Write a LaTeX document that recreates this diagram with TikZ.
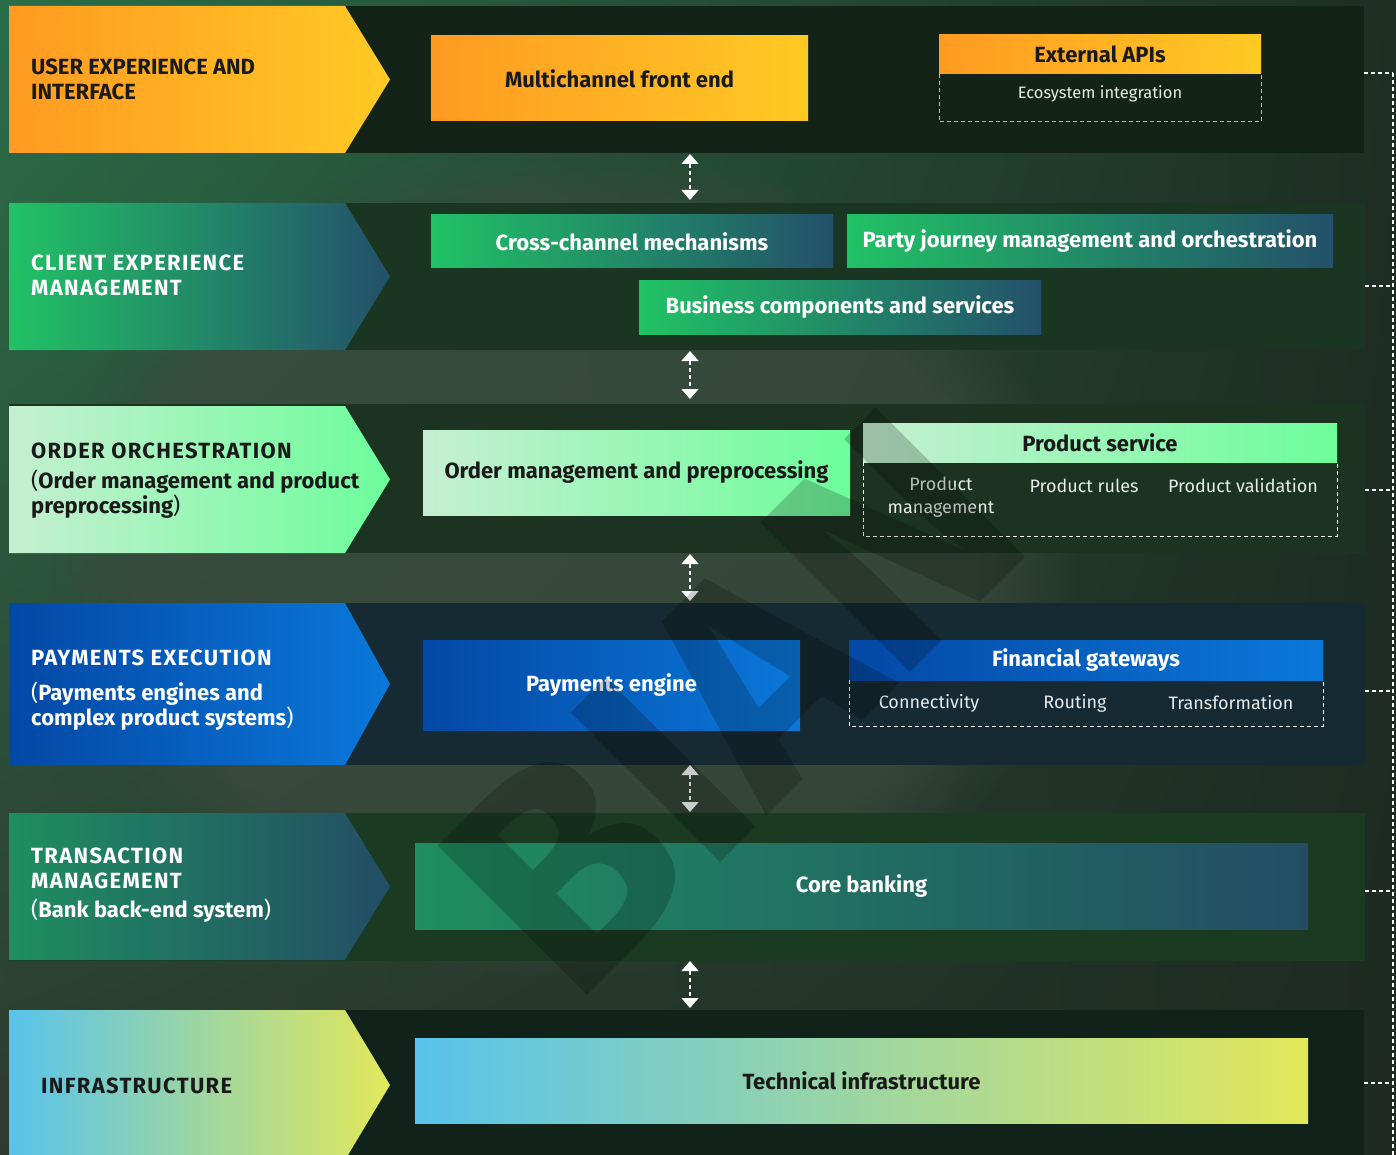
\documentclass[tikz,border=0pt]{standalone}
\usepackage{fontspec}
\setmainfont{Fira Sans}
\usetikzlibrary{arrows.meta,shadings,fadings}
\definecolor{bgUL}{HTML}{2A6E48}
\definecolor{bgUR}{HTML}{1E2E24}
\definecolor{bgLL}{HTML}{2D3B2F}
\definecolor{bgLR}{HTML}{1E2A22}
\definecolor{glow}{HTML}{3A4A3D}
\definecolor{bandA}{HTML}{142318}
\definecolor{bandB}{HTML}{1A3521}
\definecolor{bandC}{HTML}{1B3320}
\definecolor{bandD}{HTML}{162A33}
\definecolor{bandE}{HTML}{1A3A22}
\definecolor{bandF}{HTML}{10221A}
\definecolor{orL}{HTML}{FF9A22}
\definecolor{orR}{HTML}{FFCA24}
\definecolor{gbL}{HTML}{21C265}
\definecolor{gbR}{HTML}{23506A}
\definecolor{mnL}{HTML}{C6EFD1}
\definecolor{mnR}{HTML}{6DFD9B}
\definecolor{blL}{HTML}{0448A5}
\definecolor{blR}{HTML}{0A78DA}
\definecolor{tlL}{HTML}{1F8E60}
\definecolor{tlR}{HTML}{234D64}
\definecolor{inL}{HTML}{58C3EC}
\definecolor{inR}{HTML}{E2E85A}
\definecolor{darktext}{HTML}{1A1A1A}
\definecolor{subtext}{HTML}{E8ECE8}
\definecolor{ygdash}{HTML}{C2CF3A}
\tikzset{
 lbl/.style={anchor=west, align=left, inner sep=0pt, font=\fontsize{22}{25}\selectfont\bfseries},
 blk/.style={inner sep=0pt, outer sep=0pt, align=center, font=\fontsize{22}{26}\selectfont\bfseries},
 subitem/.style={inner sep=0pt, align=center, font=\fontsize{18}{23}\selectfont, text=subtext},
 dline/.style={white, line width=1pt, dash pattern=on 4pt off 3pt},
 ydline/.style={ygdash, line width=1pt, dash pattern=on 4pt off 3pt},
 updown/.style={white, line width=1.3pt, dash pattern=on 4pt off 3pt, {Triangle[width=17pt,length=10pt]}-{Triangle[width=17pt,length=10pt]}},
 rail/.style={white, line width=1.3pt, dash pattern=on 4pt off 3pt},
}
\newcommand{\mychevron}[4]{\shade[left color=#3,right color=#4] (9,#1) -- (345,#1) -- (390,{(#1+#2)/2}) -- (345,#2) -- (9,#2) -- cycle;}
\newcommand{\capsp}[1]{{\addfontfeature{LetterSpace=6}#1}}
\newcommand{\lpar}{{\mdseries(}}
\newcommand{\rpar}{{\mdseries)}}
\begin{document}
\begin{tikzpicture}[x=1pt,y=-1pt]
\useasboundingbox (0,0) rectangle (1396,1155);
% background
\shade[upper left=bgUL, upper right=bgUR, lower left=bgLL, lower right=bgLR] (0,0) rectangle (1396,1155);
\fill[glow, opacity=0.8, path fading=circle with fuzzy edge 20 percent] (560,560) ellipse (520pt and 420pt);
% bands
\fill[bandA] (9,6) rectangle (1364,153);
\fill[bandB] (9,203) rectangle (1365,350);
\fill[bandC] (9,404) rectangle (1365,553);
\fill[bandD] (9,603) rectangle (1365,765);
\fill[bandE] (9,813) rectangle (1365,961);
\fill[bandF] (9,1010) rectangle (1364,1155);
% chevrons
\mychevron{6}{153}{orL}{orR}
\mychevron{203}{350}{gbL}{gbR}
\mychevron{406}{553}{mnL}{mnR}
\mychevron{603}{765}{blL}{blR}
\mychevron{813}{960}{tlL}{tlR}
\mychevron{1010}{1160}{inL}{inR}
% row labels
\node[lbl, text=darktext] (l1) at (31,79.5) {USER EXPERIENCE AND\\INTERFACE};
\node[lbl, text=white] (l2) at (31,275.5) {\capsp{CLIENT EXPERIENCE}\\\capsp{MANAGEMENT}};
\node[lbl, text=darktext] (l3) at (31,481) {\capsp{ORDER ORCHESTRATION}\\[5pt]\lpar Order management and product\\preprocessing\rpar};
\node[lbl, text=white] (l4) at (31,690) {\capsp{PAYMENTS EXECUTION}\\[10pt]\lpar Payments engines and\\complex product systems\rpar};
\node[lbl, text=white] (l5) at (31,885.5) {\capsp{TRANSACTION}\\\capsp{MANAGEMENT}\\[4pt]\lpar Bank back-end system\rpar};
\node[lbl, text=darktext] (l6) at (41,1086) {\capsp{INFRASTRUCTURE}};
% row 1
\node[blk, left color=orL, right color=orR, text=darktext, minimum width=377pt, minimum height=85pt] (mfe) at (619.5,78.5) {Multichannel front end};
\node[blk, left color=orL, right color=orR, text=darktext, minimum width=322pt, minimum height=39pt] (api) at (1100,54.5) {External APIs};
\coordinate (apiBL) at (939,122); \coordinate (apiBR) at (1261,122);
\draw[ydline] (api.south west) -- (apiBL) -- (apiBR) -- (api.south east);
\node[subitem, font=\fontsize{16.5}{20}\selectfont] (eco) at (1100,94) {Ecosystem integration};
% row 2
\node[blk, left color=gbL, right color=gbR, text=white, minimum width=402pt, minimum height=53pt] (ccm) at (632,241.5) {Cross-channel mechanisms};
\node[blk, left color=gbL, right color=gbR, text=white, minimum width=486pt, minimum height=53pt] (pjm) at (1090,241.5) {Party journey management and orchestration};
\node[blk, left color=gbL, right color=gbR, text=white, minimum width=402pt, minimum height=53pt] (bcs) at (840,307.5) {Business components and services};
% row 3
\node[blk, left color=mnL, right color=mnR, text=darktext, minimum width=427pt, minimum height=85pt] (omp) at (636.5,472.5) {Order management and preprocessing};
\node[blk, left color=mnL, right color=mnR, text=darktext, minimum width=474pt, minimum height=39pt] (ps) at (1100,442.5) {Product service};
\coordinate (psBL) at (863,536); \coordinate (psBR) at (1337,536);
\draw[dline] (ps.south west) -- (psBL) -- (psBR) -- (ps.south east);
\node[subitem] (pm) at (941,497.5) {Product\\management};
\node[subitem] (pr) at (1084,486) {Product rules};
\node[subitem] (pv) at (1243,486) {Product validation};
% row 4
\node[blk, left color=blL, right color=blR, text=white, minimum width=377pt, minimum height=90pt] (pe) at (611.5,685) {Payments engine};
\node[blk, left color=blL, right color=blR, text=white, minimum width=474pt, minimum height=40pt] (fg) at (1086,660) {Financial gateways};
\coordinate (fgBL) at (849,726); \coordinate (fgBR) at (1323,726);
\draw[dline] (fg.south west) -- (fgBL) -- (fgBR) -- (fg.south east);
\node[subitem] (cn) at (929,703) {Connectivity};
\node[subitem] (rt) at (1075,703) {Routing};
\node[subitem] (tf) at (1231,703) {Transformation};
% row 5
\node[blk, left color=tlL, right color=tlR, text=white, minimum width=893pt, minimum height=86pt] (cb) at (861.5,886) {Core banking};
% row 6
\node[blk, left color=inL, right color=inR, text=darktext, minimum width=893pt, minimum height=85pt] (ti) at (861.5,1080.5) {Technical infrastructure};
% vertical arrows
\coordinate (a1t) at (690,154); \coordinate (a1b) at (690,200);
\coordinate (a2t) at (690,351); \coordinate (a2b) at (690,399);
\coordinate (a3t) at (690,554); \coordinate (a3b) at (690,601);
\coordinate (a4t) at (690,765); \coordinate (a4b) at (690,812);
\coordinate (a5t) at (690,961); \coordinate (a5b) at (690,1008);
\draw[updown] (a1t) -- (a1b);
\draw[updown] (a2t) -- (a2b);
\draw[updown] (a3t) -- (a3b);
\draw[updown] (a4t) -- (a4b);
\draw[updown] (a5t) -- (a5b);
% right rail
\coordinate (r0) at (1393,73);
\coordinate (rend) at (1393,1155);
\coordinate (e1) at (1364,73);   \coordinate (r1) at (1393,73);
\coordinate (e2) at (1365,286);  \coordinate (r2) at (1393,286);
\coordinate (e3) at (1365,490);  \coordinate (r3) at (1393,490);
\coordinate (e4) at (1365,691);  \coordinate (r4) at (1393,691);
\coordinate (e5) at (1365,891);  \coordinate (r5) at (1393,891);
\coordinate (e6) at (1364,1083); \coordinate (r6) at (1393,1083);
\draw[rail] (r0) -- (rend);
\draw[rail] (e1) -- (r1);
\draw[rail] (e2) -- (r2);
\draw[rail] (e3) -- (r3);
\draw[rail] (e4) -- (r4);
\draw[rail] (e5) -- (r5);
\draw[rail] (e6) -- (r6);
% watermark
\node[rotate=45, opacity=0.2, text=black, inner sep=0pt, font=\fontsize{305}{305}\selectfont\bfseries] (wm) at (732,702) {BIAN};
\end{tikzpicture}
\end{document}
